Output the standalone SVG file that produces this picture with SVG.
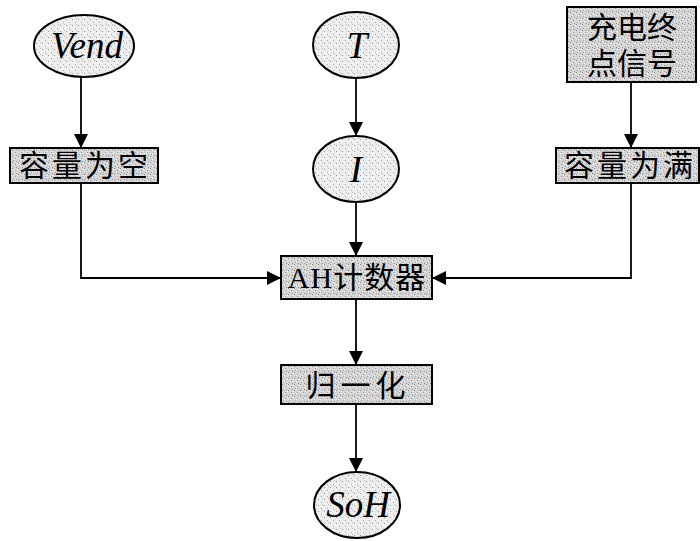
<svg xmlns="http://www.w3.org/2000/svg" width="700" height="541" viewBox="0 0 700 541">
  <defs>
    <pattern id="stipple" width="6" height="6" patternUnits="userSpaceOnUse">
      <rect width="6" height="6" fill="#d6d6d6"/>
      <rect x="0" y="0" width="1" height="1" fill="#8a8a8a"/>
      <rect x="3" y="2" width="1" height="1" fill="#999"/>
      <rect x="1" y="4" width="1" height="1" fill="#a0a0a0"/>
      <rect x="4" y="5" width="1" height="1" fill="#909090"/>
      <rect x="5" y="1" width="1" height="1" fill="#f4f4f4"/>
      <rect x="2" y="3" width="1" height="1" fill="#f4f4f4"/>
    </pattern>
    <pattern id="stippleLight" width="6" height="6" patternUnits="userSpaceOnUse">
      <rect width="6" height="6" fill="#eeeeee"/>
      <rect x="0" y="1" width="1" height="1" fill="#999"/>
      <rect x="3" y="4" width="1" height="1" fill="#aaa"/>
      <rect x="4" y="0" width="1" height="1" fill="#c0c0c0"/>
    </pattern>
    <marker id="arrow" viewBox="0 0 14 14" refX="14" refY="7" markerWidth="14" markerHeight="14" markerUnits="userSpaceOnUse" orient="auto">
      <path d="M0,0 L14,7 L0,14 Z" fill="#000"/>
    </marker>
  </defs>
  <style>
    .box { fill: url(#stipple); stroke: #000; stroke-width: 2; }
    .oval { fill: url(#stippleLight); stroke: #000; stroke-width: 2; }
    .var { font-family: "Liberation Serif", serif; font-style: italic; font-size: 37px; fill: #000; text-anchor: middle; }
    .cn { font-family: "Liberation Serif", "Noto Sans CJK SC", serif; font-size: 30px; fill: #000; text-anchor: middle; }
    .edge { fill: none; stroke: #000; stroke-width: 1.8; marker-end: url(#arrow); }
  </style>

  <rect width="700" height="541" fill="#fff"/>

  <g id="connectors">
    <path class="edge" d="M81,77 V148"/>
    <path class="edge" d="M356,78 V136"/>
    <path class="edge" d="M631,82 V148"/>
    <path class="edge" d="M356,202 V256"/>
    <path class="edge" d="M81,183 V278 H281"/>
    <path class="edge" d="M631,183 V278 H432"/>
    <path class="edge" d="M356,299 V365"/>
    <path class="edge" d="M356,404 V472"/>
  </g>

  <g id="node-vend">
    <ellipse class="oval" cx="84" cy="46" rx="50" ry="31"/>
    <text class="var" x="87" y="58">Vend</text>
  </g>

  <g id="node-t">
    <ellipse class="oval" cx="356" cy="45" rx="43" ry="33"/>
    <text class="var" x="357" y="58">T</text>
  </g>

  <g id="node-charge-end">
    <rect class="box" x="567" y="7" width="129" height="75"/>
    <text class="cn" x="632" y="38" font-size="31">充电终</text>
    <text class="cn" x="632" y="74" font-size="31">点信号</text>
  </g>

  <g id="node-empty">
    <rect class="box" x="10" y="148" width="148" height="35"/>
    <text class="cn" x="85" y="176" letter-spacing="3">容量为空</text>
  </g>

  <g id="node-i">
    <ellipse class="oval" cx="356" cy="169" rx="43" ry="33"/>
    <text class="var" x="356" y="182">I</text>
  </g>

  <g id="node-full">
    <rect class="box" x="556" y="148" width="143" height="35"/>
    <text class="cn" x="630" y="176" letter-spacing="3">容量为满</text>
  </g>

  <g id="node-ah-counter">
    <rect class="box" x="281" y="256" width="151" height="43"/>
    <text class="cn" x="357" y="288" letter-spacing="1">AH计数器</text>
  </g>

  <g id="node-normalize">
    <rect class="box" x="281" y="365" width="151" height="39"/>
    <text class="cn" x="358" y="396" letter-spacing="5">归一化</text>
  </g>

  <g id="node-soh">
    <ellipse class="oval" cx="357" cy="505" rx="43" ry="33"/>
    <text class="var" x="358" y="517" font-size="34">SoH</text>
  </g>
</svg>
